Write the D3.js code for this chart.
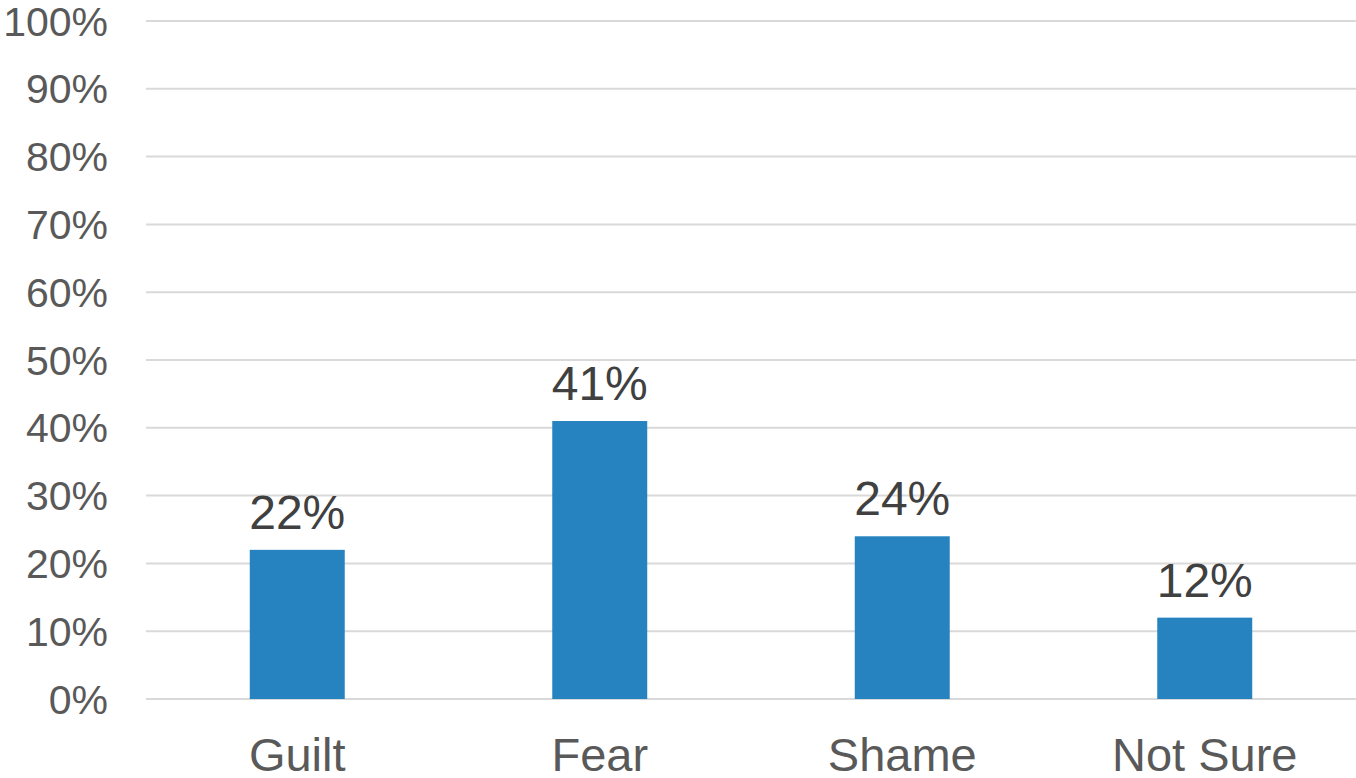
<!DOCTYPE html>
<html>
<head>
<meta charset="utf-8">
<script src="https://cdn.jsdelivr.net/npm/d3@7"></script>
<style>
  html, body { margin: 0; padding: 0; background: #fff; }
  svg { display: block; font-family: "Liberation Sans", Arial, sans-serif; }
</style>
</head>
<body>
<svg id="chart" width="1356" height="778"></svg>
<script>
const categories = ["Guilt", "Fear", "Shame", "Not Sure"];
const values = [22, 41, 24, 12];
const yTicks = [0, 10, 20, 30, 40, 50, 60, 70, 80, 90, 100];

(function () {
const svg = d3.select("#chart");
const plotLeft = 146, plotRight = 1356, plotTop = 21, plotBottom = 699;

const x = d3.scaleBand().domain(categories).range([plotLeft, plotRight])
  .paddingInner(0.686).paddingOuter(0.343);
const y = d3.scaleLinear().domain([0, 100]).range([plotBottom, plotTop]);

// gridlines
svg.append("g").selectAll("line").data(yTicks).join("line")
  .attr("x1", plotLeft).attr("x2", plotRight)
  .attr("y1", d => y(d)).attr("y2", d => y(d))
  .attr("stroke", "#d9d9d9").attr("stroke-width", 2);

// y tick labels
svg.append("g").selectAll("text").data(yTicks).join("text")
  .attr("x", 108).attr("y", d => y(d) + 14.5)
  .attr("text-anchor", "end")
  .attr("font-size", 41).attr("fill", "#595959")
  .text(d => d + "%");

// bars
const data = categories.map((c, i) => ({ c, v: values[i] }));
svg.append("g").selectAll("rect").data(data).join("rect")
  .attr("x", d => x(d.c)).attr("width", x.bandwidth())
  .attr("y", d => y(d.v)).attr("height", d => y(0) - y(d.v))
  .attr("fill", "#2683c0");

// data labels
svg.append("g").selectAll("text").data(data).join("text")
  .attr("x", d => x(d.c) + x.bandwidth() / 2)
  .attr("y", d => y(d.v) - 21)
  .attr("text-anchor", "middle")
  .attr("font-size", 48).attr("fill", "#404040")
  .text(d => d.v + "%");

// category labels
svg.append("g").selectAll("text").data(categories).join("text")
  .attr("x", d => x(d) + x.bandwidth() / 2)
  .attr("y", 771)
  .attr("text-anchor", "middle")
  .attr("font-size", 47).attr("fill", "#595959")
  .text(d => d);
})();
</script>
</body>
</html>
